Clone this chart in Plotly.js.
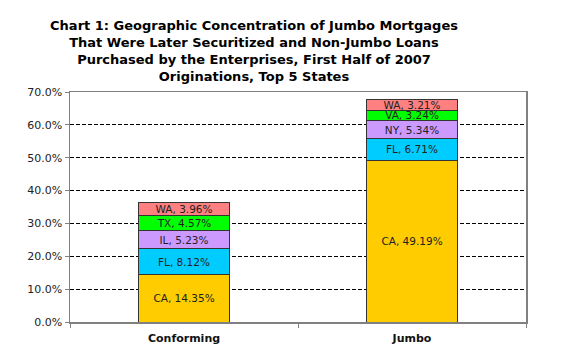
<!DOCTYPE html>
<html>
<head>
<meta charset="utf-8">
<script src="https://cdn.plot.ly/plotly-3.0.1.min.js"></script>
<style>html,body{margin:0;padding:0;background:#fff;}#chart{width:565px;height:348px;}</style>
</head>
<body>
<div id="chart"></div>
<script>
const categories = ['Conforming', 'Jumbo'];
// stack levels (bottom to top), state names per category
const level1States = ['CA', 'CA'];
const level1Values = [14.35, 49.19];
const level2States = ['FL', 'FL'];
const level2Values = [8.12, 6.71];
const level3States = ['IL', 'NY'];
const level3Values = [5.23, 5.34];
const level4States = ['TX', 'VA'];
const level4Values = [4.57, 3.24];
const level5States = ['WA', 'WA'];
const level5Values = [3.96, 3.21];
const yTickVals = [0, 10, 20, 30, 40, 50, 60, 70];

const levels = [
  {states: level1States, values: level1Values, color: '#FFCC00'},
  {states: level2States, values: level2Values, color: '#00CCFF'},
  {states: level3States, values: level3Values, color: '#CC99FF'},
  {states: level4States, values: level4Values, color: '#00FF00'},
  {states: level5States, values: level5Values, color: '#FF8080'}
];

const traces = levels.map(l => ({
  type: 'bar',
  x: categories,
  y: l.values,
  customdata: l.states,
  texttemplate: '%{customdata}, %{y:.2f}%',
  textposition: 'inside',
  insidetextanchor: 'middle',
  textangle: 0,
  textfont: {family: 'DejaVu Sans', size: 10.5, color: '#222'},
  marker: {color: l.color, line: {color: '#333', width: 1}},
  hoverinfo: 'none',
  showlegend: false
}));

const layout = {
  width: 565, height: 348,
  margin: {l: 70, r: 39, t: 92, b: 26},
  barmode: 'stack',
  bargap: 0.6,
  paper_bgcolor: '#fff',
  plot_bgcolor: '#fff',
  uniformtext: {mode: 'show', minsize: 10.5},
  title: {
    text: 'Chart 1: Geographic Concentration of Jumbo Mortgages<br>That Were Later Securitized and Non-Jumbo Loans<br>Purchased by the Enterprises, First Half of 2007<br>Originations, Top 5 States',
    font: {family: 'DejaVu Sans', size: 13, color: '#000', weight: 'bold'},
    x: 254 / 565, xanchor: 'center', xref: 'container',
    y: 1 - 30 / 348, yanchor: 'top', yref: 'container'
  },
  xaxis: {
    type: 'category',
    showline: true, linecolor: '#808080', linewidth: 1.5,
    mirror: true,
    ticks: 'outside', ticklen: 4, tickcolor: '#808080', tickson: 'boundaries',
    ticklabelstandoff: 5,
    tickfont: {family: 'DejaVu Sans', size: 11, color: '#111', weight: 'bold'},
    showgrid: false
  },
  yaxis: {
    range: [0, 70],
    tickvals: yTickVals,
    ticktext: yTickVals.map(v => v.toFixed(1) + '%'),
    showline: true, linecolor: '#808080', linewidth: 1.5, mirror: true,
    ticks: 'outside', ticklen: 4, tickcolor: '#808080',
    tickfont: {family: 'DejaVu Sans', size: 11, color: '#222'},
    showgrid: true, gridcolor: '#000', gridwidth: 1, griddash: '4px,2px',
    zeroline: false
  }
};

Plotly.newPlot('chart', traces, layout, {displayModeBar: false, staticPlot: true});
</script>
</body>
</html>
